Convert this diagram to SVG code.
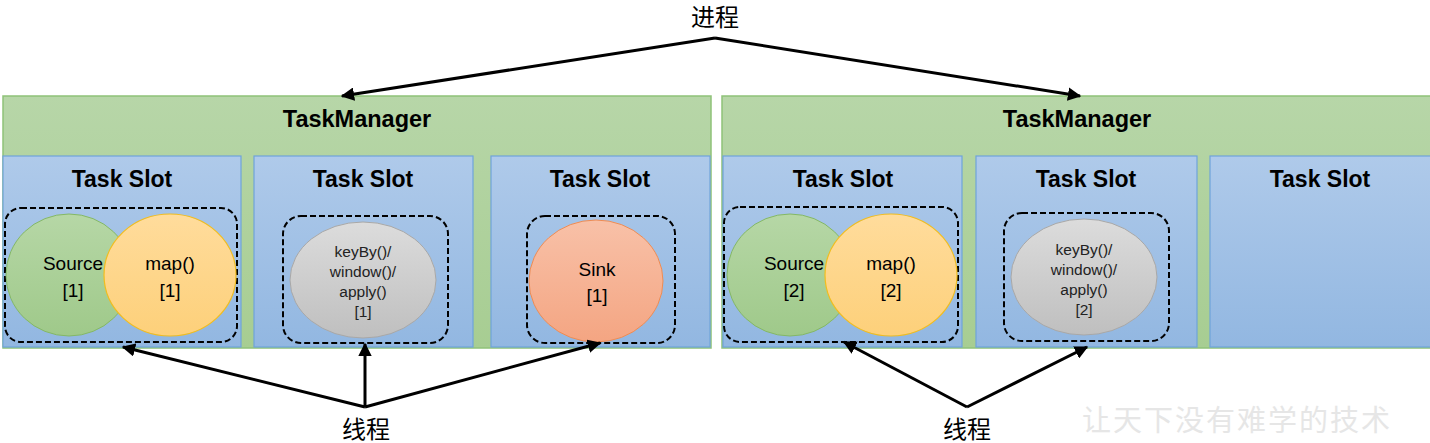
<svg xmlns="http://www.w3.org/2000/svg" width="1430" height="443" viewBox="0 0 1430 443">
<defs>
<linearGradient id="gTM" x1="0" y1="0" x2="0" y2="1"><stop offset="0" stop-color="#b7d6a8"/><stop offset="1" stop-color="#a7cd92"/></linearGradient>
<linearGradient id="gSlot" x1="0" y1="0" x2="0" y2="1"><stop offset="0" stop-color="#afcaea"/><stop offset="1" stop-color="#92b7e1"/></linearGradient>
<linearGradient id="gSrc" x1="0" y1="0" x2="0" y2="1"><stop offset="0" stop-color="#b6d7a6"/><stop offset="1" stop-color="#9fc98a"/></linearGradient>
<linearGradient id="gMap" x1="0" y1="0" x2="0" y2="1"><stop offset="0" stop-color="#ffdc9c"/><stop offset="1" stop-color="#fdd07a"/></linearGradient>
<linearGradient id="gKey" x1="0" y1="0" x2="0" y2="1"><stop offset="0" stop-color="#dcdcdc"/><stop offset="1" stop-color="#bfbfbf"/></linearGradient>
<linearGradient id="gSink" x1="0" y1="0" x2="0" y2="1"><stop offset="0" stop-color="#f8c1a8"/><stop offset="1" stop-color="#f4a582"/></linearGradient>
<marker id="ah" viewBox="0 0 10 10" refX="9" refY="5" markerWidth="4.5" markerHeight="4.5" orient="auto" markerUnits="strokeWidth"><path d="M0,0 L10,5 L0,10 z" fill="#000"/></marker>
</defs>
<style>
.tm{fill:url(#gTM);stroke:#8fc278;stroke-width:1.5}
.slot{fill:url(#gSlot);stroke:#6fa3da;stroke-width:1.2}
.dash{fill:none;stroke:#000;stroke-width:2;stroke-dasharray:6,3}
.src{fill:url(#gSrc);stroke:#84b866;stroke-width:1}
.map{fill:url(#gMap);stroke:#f2bd1e;stroke-width:1.2}
.key{fill:url(#gKey);stroke:#a8a8a8;stroke-width:1}
.sink{fill:url(#gSink);stroke:#ee8c54;stroke-width:1}
.h{font-family:"Liberation Sans",Arial,sans-serif;font-weight:bold;font-size:23.5px;fill:#000;text-anchor:middle}
.s{font-family:"Liberation Sans",Arial,sans-serif;font-weight:bold;font-size:23px;fill:#000;text-anchor:middle}
.t{font-family:"Liberation Sans",Arial,sans-serif;font-size:19px;fill:#000;text-anchor:middle}
.k{font-family:"Liberation Sans",Arial,sans-serif;font-size:15.5px;fill:#222;text-anchor:middle}
.cn{font-family:"Noto Sans CJK SC",sans-serif;font-size:24px;fill:#000;text-anchor:middle}
.wm{font-family:"Noto Sans CJK SC",serif;font-size:29px;fill:#e6e6e6;letter-spacing:2px}
.ln{fill:none;stroke:#000;stroke-width:3;marker-end:url(#ah)}
</style>
<g id="tm1">
<rect class="tm" x="3" y="96" width="708" height="252"/>
<text class="h" x="357" y="127">TaskManager</text>
</g>
<g id="tm2">
<rect class="tm" x="722" y="96" width="712" height="252"/>
<text class="h" x="1077" y="127">TaskManager</text>
</g>
<g id="slot1">
<rect class="slot" x="3" y="156" width="238" height="191"/>
<text class="s" x="122" y="187">Task Slot</text>
<rect class="dash" x="5" y="208" width="232" height="134" rx="16"/>
</g>
<g id="slot2">
<rect class="slot" x="254" y="156" width="219" height="191"/>
<text class="s" x="363" y="187">Task Slot</text>
<rect class="dash" x="283" y="216" width="165" height="127" rx="18"/>
</g>
<g id="slot3">
<rect class="slot" x="491" y="156" width="219" height="191"/>
<text class="s" x="600" y="187">Task Slot</text>
<rect class="dash" x="527" y="216" width="148" height="127" rx="18"/>
</g>
<g id="slot4">
<rect class="slot" x="723" y="156" width="239" height="191"/>
<text class="s" x="843" y="187">Task Slot</text>
<rect class="dash" x="724" y="207" width="234" height="135" rx="16"/>
</g>
<g id="slot5">
<rect class="slot" x="976" y="156" width="221" height="191"/>
<text class="s" x="1086" y="187">Task Slot</text>
<rect class="dash" x="1004" y="213" width="165" height="128" rx="18"/>
</g>
<g id="slot6">
<rect class="slot" x="1210" y="156" width="224" height="191"/>
<text class="s" x="1320" y="187">Task Slot</text>
</g>
<g id="source1">
<ellipse class="src" cx="69" cy="275" rx="63" ry="61"/>
<text class="t" x="73" y="270">Source</text>
<text class="t" x="73" y="297">[1]</text>
</g>
<g id="map1">
<ellipse class="map" cx="170" cy="275" rx="66" ry="61"/>
<text class="t" x="170" y="270">map()</text>
<text class="t" x="170" y="297">[1]</text>
</g>
<g id="keyby1">
<ellipse class="key" cx="363" cy="280" rx="73" ry="58"/>
<text class="k" x="363" y="257">keyBy()/</text>
<text class="k" x="363" y="277">window()/</text>
<text class="k" x="363" y="297">apply()</text>
<text class="k" x="363" y="317">[1]</text>
</g>
<g id="sink1">
<ellipse class="sink" cx="596" cy="281" rx="67" ry="61"/>
<text class="t" x="597" y="276">Sink</text>
<text class="t" x="597" y="302">[1]</text>
</g>
<g id="source2">
<ellipse class="src" cx="790" cy="275" rx="63" ry="61"/>
<text class="t" x="794" y="270">Source</text>
<text class="t" x="794" y="297">[2]</text>
</g>
<g id="map2">
<ellipse class="map" cx="891" cy="275" rx="66" ry="61"/>
<text class="t" x="891" y="270">map()</text>
<text class="t" x="891" y="297">[2]</text>
</g>
<g id="keyby2">
<ellipse class="key" cx="1084" cy="277" rx="73" ry="58"/>
<text class="k" x="1084" y="255">keyBy()/</text>
<text class="k" x="1084" y="275">window()/</text>
<text class="k" x="1084" y="295">apply()</text>
<text class="k" x="1084" y="315">[2]</text>
</g>
<g id="labels">
<text class="cn" x="715" y="26">进程</text>
<text class="cn" x="366" y="438">线程</text>
<text class="cn" x="967" y="438">线程</text>
<text class="wm" x="1082" y="431">让天下没有难学的技术</text>
</g>
<g id="connectors">
<path class="ln" d="M715,38 L342,96"/>
<path class="ln" d="M715,38 L1080,96"/>
<path class="ln" d="M365,407 L123,347"/>
<path class="ln" d="M365,407 L365,344"/>
<path class="ln" d="M365,407 L600,343"/>
<path class="ln" d="M967,407 L844,342"/>
<path class="ln" d="M967,407 L1087,347"/>
</g>
</svg>
